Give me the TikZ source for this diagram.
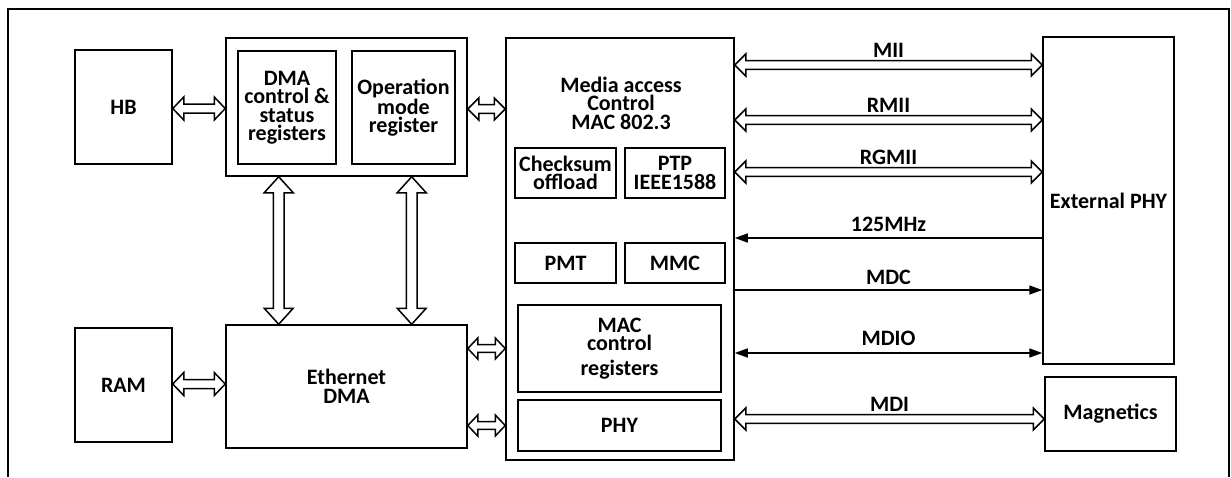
\documentclass[tikz,border=0pt]{standalone}
\usepackage{fontspec}
\setmainfont{Carlito}
\usetikzlibrary{calc,arrows.meta}
\newcommand\hollowarrow[5]{%
\draw[conn] (#1) -- ($(#1)!#3!(#2)!#4!90:(#2)$) -- ($(#1)!#3!(#2)!#5!90:(#2)$)
 -- ($(#2)!#3!(#1)!#5!-90:(#1)$) -- ($(#2)!#3!(#1)!#4!-90:(#1)$) -- (#2)
 -- ($(#2)!#3!(#1)!#4!90:(#1)$) -- ($(#2)!#3!(#1)!#5!90:(#1)$)
 -- ($(#1)!#3!(#2)!#5!-90:(#2)$) -- ($(#1)!#3!(#2)!#4!-90:(#2)$) -- cycle;}
\tikzset{
 box/.style={draw, line width=1.5pt, inner sep=0pt, align=center,
   font=\bfseries\fontsize{22}{18.5}\selectfont},
 txt/.style={inner sep=0pt, align=center, font=\bfseries\fontsize{22}{18.5}\selectfont},
 lbl/.style={inner sep=0pt, anchor=base, font=\bfseries\fontsize{22}{18.5}\selectfont},
 conn/.style={line width=1.5pt, line join=miter},
 sig/.style={line width=1.5pt},
 tip/.style={-{Triangle[length=13pt,width=9pt]}},
 tips/.style={{Triangle[length=13pt,width=9pt]}-{Triangle[length=13pt,width=9pt]}},
}
\begin{document}
\begin{tikzpicture}[x=1pt,y=-1pt]
\useasboundingbox (0,0) rectangle (1231,477);
% frame
\draw[line width=1.5pt] (8,477) -- (8,9) -- (1229,9) -- (1229,477);
% boxes
\node[box, minimum width=97pt, minimum height=114pt] (hb) at (123.5,107) {HB};
\node[box, minimum width=241pt, minimum height=138pt] (grp) at (346.5,107) {};
\node[box, minimum width=98pt, minimum height=113pt] (dmactl) at (287,107.5) {DMA\\control \&\\status\\registers};
\node[box, minimum width=103pt, minimum height=113pt] (opmode) at (403.5,107.5) {Operation\\mode\\register};
\node[box, minimum width=228pt, minimum height=422pt] (mac) at (620,249) {};
\node[txt] (mactitle) at (621,103) {Media access\\Control\\MAC 802.3};
\node[box, minimum width=101pt, minimum height=50pt] (cks) at (565.5,173) {Checksum\\offload};
\node[box, minimum width=100pt, minimum height=50pt] (ptp) at (675,173) {PTP\\IEEE1588};
\node[box, minimum width=101pt, minimum height=40pt] (pmt) at (565.5,263) {PMT};
\node[box, minimum width=100pt, minimum height=40pt] (mmc) at (675,263) {MMC};
\node[box, minimum width=203pt, minimum height=87pt] (macreg) at (619.5,348.5) {MAC\\control\\[6pt]registers};
\node[box, minimum width=203pt, minimum height=51pt] (phy) at (619.5,425.5) {PHY};
\node[box, minimum width=241pt, minimum height=123pt] (edma) at (346.5,386.5) {Ethernet\\[1pt]DMA};
\node[box, minimum width=97pt, minimum height=114pt] (ram) at (123.5,385) {RAM};
\node[box, minimum width=131pt, minimum height=327pt] (ephy) at (1108.5,200.5) {External PHY};
\node[box, minimum width=131pt, minimum height=74pt] (mag) at (1110.5,414) {Magnetics};
% levels
\coordinate (yMII) at (0,65);
\coordinate (yRMII) at (0,120);
\coordinate (yRGMII) at (0,172);
\coordinate (yCLK) at (0,238);
\coordinate (yMDC) at (0,290);
\coordinate (yMDIO) at (0,353);
\coordinate (yMDI) at (0,419);
% hollow arrow end points
\coordinate (a1) at ($(hb.east)+(0,1.5)$);
\coordinate (a2) at ($(grp.west|-hb.east)+(0,1.5)$);
\coordinate (b1) at ($(grp.east)+(0,2)$);
\coordinate (b2) at ($(mac.west|-grp.east)+(0,2)$);
\coordinate (c1) at ([xshift=-8.3pt]dmactl.south|-grp.south);
\coordinate (c2) at ([xshift=-8.3pt]dmactl.south|-edma.north);
\coordinate (d1) at ([xshift=8.2pt]opmode.south|-grp.south);
\coordinate (d2) at ([xshift=8.2pt]opmode.south|-edma.north);
\coordinate (e1) at ($(ram.east)+(0,-1)$);
\coordinate (e2) at ($(edma.west|-ram.east)+(0,-1)$);
\coordinate (f1) at (edma.east|-macreg.west);
\coordinate (f2) at (mac.west|-macreg.west);
\coordinate (g1) at (edma.east|-phy.west);
\coordinate (g2) at (mac.west|-phy.west);
\coordinate (m1) at (mac.east|-yMII);
\coordinate (m2) at (ephy.west|-yMII);
\coordinate (r1) at (mac.east|-yRMII);
\coordinate (r2) at (ephy.west|-yRMII);
\coordinate (rg1) at (mac.east|-yRGMII);
\coordinate (rg2) at (ephy.west|-yRGMII);
\coordinate (mdi1) at (mac.east|-yMDI);
\coordinate (mdi2) at (mag.west|-yMDI);
% hollow arrows
\hollowarrow{a1}{a2}{11pt}{11.5pt}{4.5pt}
\hollowarrow{b1}{b2}{11pt}{11pt}{4.3pt}
\hollowarrow{c1}{c2}{16pt}{14.5pt}{5.3pt}
\hollowarrow{d1}{d2}{16pt}{14.5pt}{5.3pt}
\hollowarrow{e1}{e2}{11pt}{11.5pt}{4.5pt}
\hollowarrow{f1}{f2}{10pt}{10.5pt}{3.9pt}
\hollowarrow{g1}{g2}{10pt}{10.5pt}{3.9pt}
\hollowarrow{m1}{m2}{11pt}{11pt}{4.3pt}
\hollowarrow{r1}{r2}{11pt}{11pt}{4.3pt}
\hollowarrow{rg1}{rg2}{11pt}{11pt}{4.3pt}
\hollowarrow{mdi1}{mdi2}{11pt}{11pt}{4.3pt}
% signal lines
\draw[sig, tip] (ephy.west|-yCLK) -- (mac.east|-yCLK);
\draw[sig, tip] (mac.east|-yMDC) -- (ephy.west|-yMDC);
\draw[sig, tips] (mac.east|-yMDIO) -- (ephy.west|-yMDIO);
% labels
\node[lbl] (lmii) at ($(m1)!0.5!(m2)+(0,-8)$) {MII};
\node[lbl] (lrmii) at ($(r1)!0.5!(r2)+(0,-8)$) {RMII};
\node[lbl] (lrgmii) at ($(rg1)!0.5!(rg2)+(0,-8)$) {RGMII};
\node[lbl] (lclk) at ($(mac.east|-yCLK)!0.5!(ephy.west|-yCLK)+(0,-7)$) {125MHz};
\node[lbl] (lmdc) at ($(mac.east|-yMDC)!0.5!(ephy.west|-yMDC)+(0,-6)$) {MDC};
\node[lbl] (lmdio) at ($(mac.east|-yMDIO)!0.5!(ephy.west|-yMDIO)+(0,-8)$) {MDIO};
\node[lbl] (lmdi) at ($(mdi1)!0.5!(mdi2)+(0,-8)$) {MDI};
\end{tikzpicture}
\end{document}
